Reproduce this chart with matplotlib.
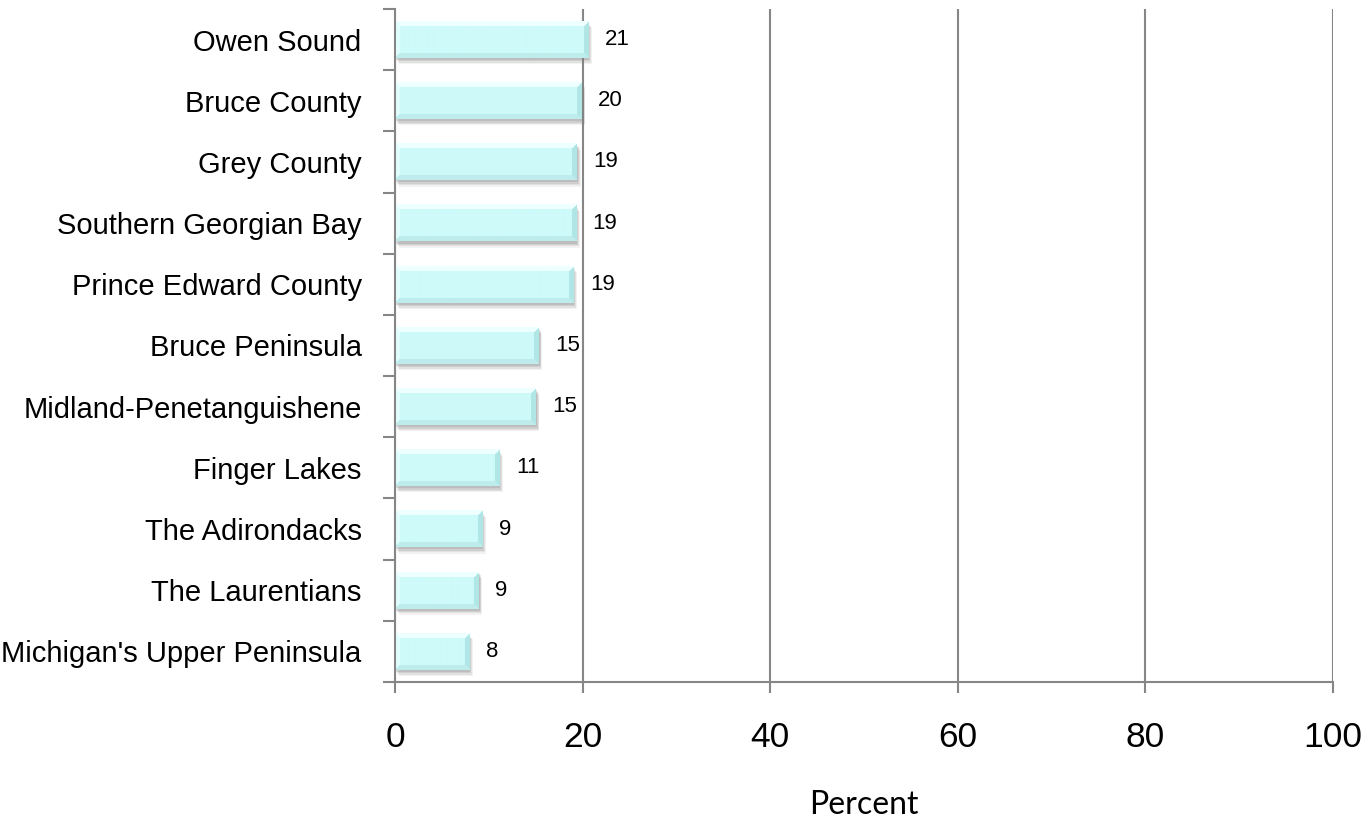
import numpy as np
import matplotlib
matplotlib.use("Agg")
import matplotlib.pyplot as plt
from matplotlib import patheffects as pe

categories = ["Owen Sound", "Bruce County", "Grey County", "Southern Georgian Bay",
              "Prince Edward County", "Bruce Peninsula", "Midland-Penetanguishene",
              "Finger Lakes", "The Adirondacks", "The Laurentians",
              "Michigan's Upper Peninsula"]
values = [20.6, 19.9, 19.4, 19.3, 19.0, 15.3, 15.0, 11.1, 9.3, 8.9, 7.9]
value_labels = ["21", "20", "19", "19", "19", "15", "15", "11", "9", "9", "8"]
xticks = [0, 20, 40, 60, 80, 100]
xlabel = "Percent"

W, H, DPI = 1372, 819, 100
fig = plt.figure(figsize=(W / DPI, H / DPI), dpi=DPI)
ax = fig.add_axes([395 / W, 137 / H, (1333 - 395) / W, (682 - 9) / H])

grid_c = "#868686"
y = np.arange(len(categories))
bar_h = 0.6
ax.set_xlim(0, 100)
ax.set_ylim(len(categories) - 0.5, -0.5)

bars = ax.barh(y, values, height=bar_h, color="#CFF8F8", edgecolor="none", zorder=3)
shadow_fx = [pe.SimplePatchShadow(offset=(o * 0.6, -o), shadow_rgbFace="#808080", alpha=a)
             for o, a in [(4.5, 0.10), (3.5, 0.14), (2.5, 0.18), (1.5, 0.22)]]
for b in bars:
    b.set_path_effects(shadow_fx + [pe.Normal()])

# bevel image for each bar, computed in pixel space
fig.canvas.draw()
main = np.array([206, 250, 250]) / 255
top_c = np.array([238, 255, 255]) / 255
left_c = np.array([224, 254, 254]) / 255
right_c = np.array([176, 230, 230]) / 255
bot_c = np.array([190, 236, 236]) / 255
for b in bars:
    x0, y0 = b.get_x(), b.get_y()
    w, h = b.get_width(), b.get_height()
    p0 = ax.transData.transform((x0, y0))
    p1 = ax.transData.transform((x0 + w, y0 + h))
    pw = int(round(abs(p1[0] - p0[0])))
    ph = int(round(abs(p1[1] - p0[1])))
    img = np.ones((ph, pw, 3)) * main
    bv = 5
    rr, cc = np.mgrid[0:ph, 0:pw]
    d_top = rr
    d_bot = ph - 1 - rr
    d_left = cc
    d_right = pw - 1 - cc
    dmin = np.minimum(np.minimum(d_top, d_bot), np.minimum(d_left, d_right))
    inb = dmin < bv
    img[inb & (d_left == dmin)] = left_c
    img[inb & (d_right == dmin)] = right_c
    img[inb & (d_bot == dmin)] = bot_c
    img[inb & (d_top == dmin)] = top_c
    ax.imshow(img, extent=(x0, x0 + w, y0 + h, y0), aspect="auto",
              interpolation="bilinear", zorder=4)

for yi, v, lab in zip(y, values, value_labels):
    ax.annotate(lab, xy=(v, yi), xytext=(12, 0), textcoords="offset points",
                ha="left", va="center", fontsize=16, family="Liberation Sans",
                color="black", zorder=5)

ax.set_xticks(xticks)
ax.set_xticklabels([str(t) for t in xticks], fontsize=25.5, family="Liberation Sans")
ax.tick_params(axis="x", direction="out", length=8, width=1.5, color=grid_c, pad=20)

ax.set_yticks(y)
ax.set_yticklabels(categories, fontsize=21, family="Liberation Sans")
ax.tick_params(axis="y", which="major", length=0, pad=24)
ax.set_yticks(np.arange(-0.5, len(categories), 1), minor=True)
ax.tick_params(axis="y", which="minor", direction="out", length=9, width=1.5, color=grid_c)

ax.xaxis.grid(True, color=grid_c, linewidth=1.5, zorder=0)
ax.set_axisbelow(True)
for s in ["top", "right"]:
    ax.spines[s].set_visible(False)
for s in ["left", "bottom"]:
    ax.spines[s].set_color(grid_c)
    ax.spines[s].set_linewidth(1.5)
    ax.spines[s].set_zorder(6)

fig.text((395 + 1333) / 2 / W, 1 - 805 / H, xlabel, ha="center", va="center",
         fontsize=23, family="Lato")

fig.savefig("out.png", dpi=DPI)
